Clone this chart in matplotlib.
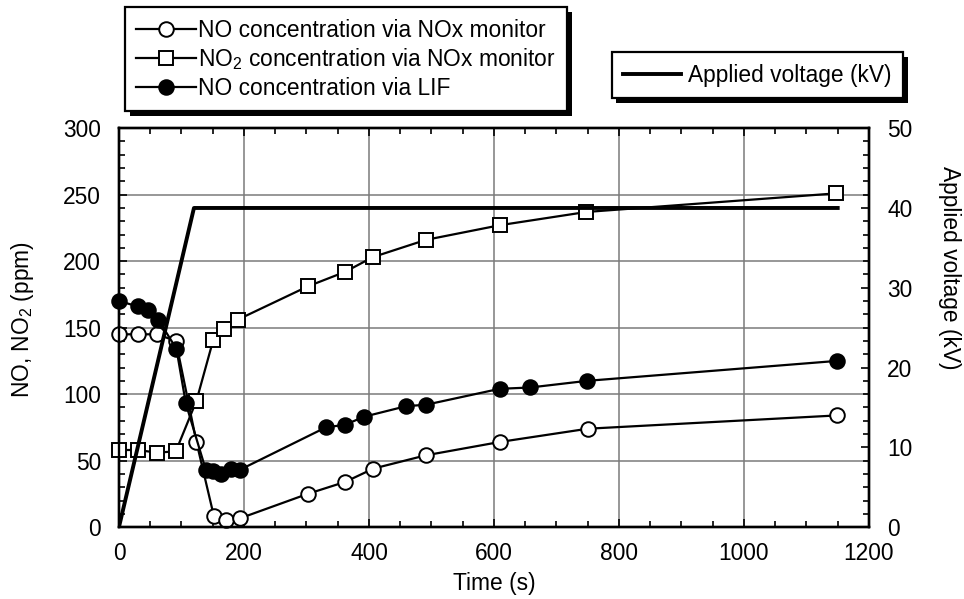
import matplotlib
matplotlib.use("Agg")
import matplotlib.pyplot as plt
import matplotlib.patheffects as pe
from matplotlib.ticker import MultipleLocator, AutoMinorLocator

plt.rcParams['font.family'] = ['Liberation Sans', 'DejaVu Sans']
plt.rcParams['mathtext.default'] = 'regular'
plt.rcParams['font.size'] = 16.4

# NO via NOx monitor (open circles)
t_no = [0, 30, 61, 91, 124, 152, 171, 193, 302, 362, 407, 491, 609, 750, 1149]
no_nox = [145, 145, 145, 140, 64, 8, 5, 6.5, 25, 34, 44, 54, 64, 74, 84]

# NO2 via NOx monitor (open squares)
t_no2 = [0, 30, 61, 91, 124, 151, 168, 190, 302, 362, 406, 491, 609, 748, 1148]
no2_nox = [58, 58, 56, 57, 95, 141, 149, 156, 181, 192, 203, 216, 227, 237, 251]

# NO via LIF (filled circles)
t_lif = [0, 30, 46, 63, 92, 107, 139, 151, 163, 180, 193, 331, 362, 392, 460, 491, 609, 658, 749, 1149]
no_lif = [170, 166, 163, 156, 134, 93, 43, 42, 40, 44, 43, 75, 77, 83, 91, 92, 104, 105, 110, 125]

# applied voltage
t_volt = [0, 120, 1150]
volt = [0, 40, 40]

fig = plt.figure(figsize=(9.64, 5.99), dpi=100)
ax = fig.add_axes([0.1234, 0.120, 0.778, 0.666])
ax2 = ax.twinx()

mk = dict(markersize=10.5, markeredgewidth=1.4, markeredgecolor='black', color='black',
          linewidth=1.6, clip_on=False)
l1, = ax.plot(t_no, no_nox, marker='o', markerfacecolor='white', label='NO concentration via NOx monitor', zorder=4, **mk)
l2, = ax.plot(t_no2, no2_nox, marker='s', markerfacecolor='white', label=r'NO$_2$ concentration via NOx monitor', zorder=4, **mk)
l3, = ax.plot(t_lif, no_lif, marker='o', markerfacecolor='black', label='NO concentration via LIF', zorder=4, **mk)
l4, = ax2.plot(t_volt, volt, color='black', linewidth=2.8, label='Applied voltage (kV)', zorder=3)

ax.set_xlim(0, 1200)
ax.set_ylim(0, 300)
ax2.set_ylim(0, 50)
ax.xaxis.set_major_locator(MultipleLocator(200))
ax.xaxis.set_minor_locator(MultipleLocator(50))
ax.yaxis.set_major_locator(MultipleLocator(50))
ax.yaxis.set_minor_locator(MultipleLocator(10))
ax2.yaxis.set_major_locator(MultipleLocator(10))
ax2.yaxis.set_minor_locator(AutoMinorLocator(6))

ax.grid(True, which='major', color='#7a7a7a', linewidth=1.1)
ax.set_axisbelow(True)

ax.tick_params(which='both', direction='in', top=True, right=False, width=1.2)
ax.tick_params(which='major', length=6)
ax.tick_params(which='minor', length=4)
ax.tick_params(axis='x', pad=11)
ax.tick_params(axis='y', pad=13)
ax2.tick_params(which='both', direction='in', width=1.2, pad=13)
ax2.tick_params(which='major', length=6)
ax2.tick_params(which='minor', length=4)

for sp in ax.spines.values():
    sp.set_linewidth(1.7)
for sp in ax2.spines.values():
    sp.set_linewidth(1.7)

ax.set_xlabel('Time (s)', labelpad=5)
ax.set_ylabel(r'NO, NO$_2$ (ppm)')
ax.yaxis.set_label_coords(-0.111, 0.52)
ax2.set_ylabel('Applied voltage (kV)', rotation=270, va='center')
ax2.yaxis.set_label_coords(1.107, 0.65)

shadow = [pe.SimplePatchShadow(offset=(3.5, -3.5), shadow_rgbFace='black', alpha=1), pe.Normal()]
leg1 = ax2.legend(handles=[l1, l2, l3], loc='upper left', bbox_to_anchor=(0.008, 1.303),
                  borderaxespad=0, fancybox=False, framealpha=1, edgecolor='black',
                  handlelength=2.6, handletextpad=0.1, labelspacing=0.2, borderpad=0.5)
leg1.get_frame().set_linewidth(1.6)
leg1.get_frame().set_path_effects(shadow)
ax2.add_artist(leg1)
leg2 = ax2.legend(handles=[l4], loc='upper right', bbox_to_anchor=(1.045, 1.19),
                  borderaxespad=0, fancybox=False, framealpha=1, edgecolor='black',
                  handlelength=2.55, handletextpad=0.3, borderpad=0.5)
leg2.get_frame().set_linewidth(1.6)
leg2.get_frame().set_path_effects(shadow)

fig.savefig('out.png', dpi=100)
